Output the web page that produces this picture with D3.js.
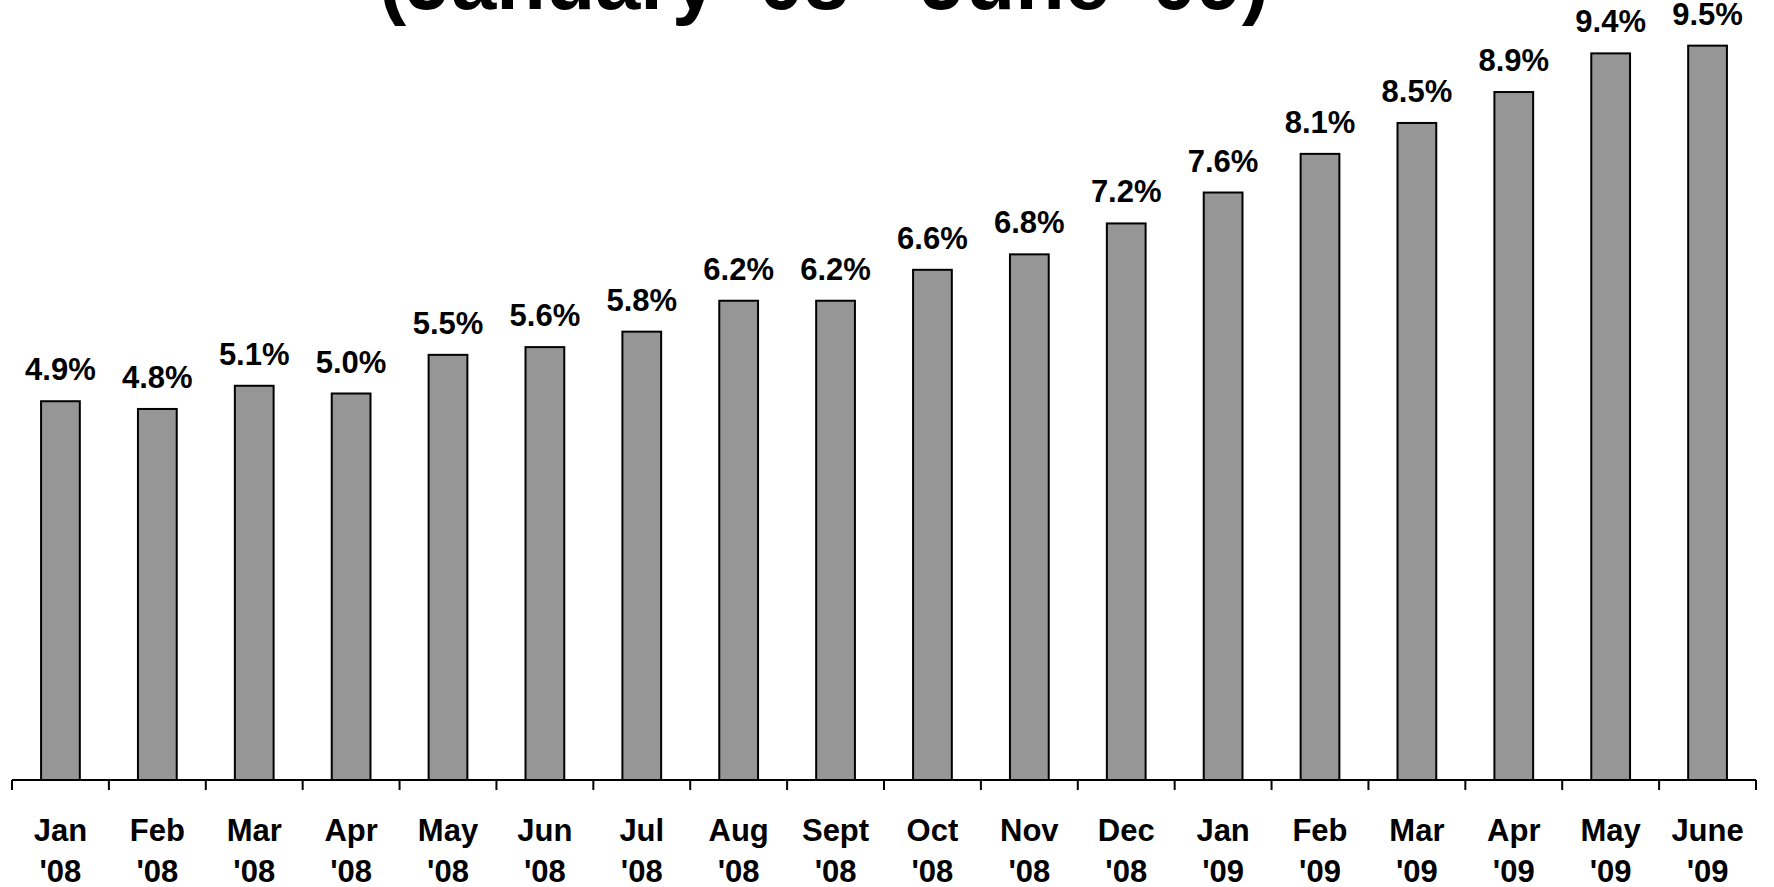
<!DOCTYPE html>
<html>
<head>
<meta charset="utf-8">
<script src="https://cdn.jsdelivr.net/npm/d3@7"></script>
<style>
  body { margin: 0; background: #fff; }
  svg { display: block; font-family: "Liberation Sans", Arial, sans-serif; font-weight: bold; }
  .bar { fill: #969696; stroke: #000; stroke-width: 2; }
  .bar-value { font-size: 31px; fill: #000; }
  .tick-label { font-size: 31px; fill: #000; }
  .title { font-size: 81px; fill: #000; }
</style>
</head>
<body>
<script>

// data
const months = ["Jan", "Feb", "Mar", "Apr", "May", "Jun", "Jul", "Aug", "Sept",
                "Oct", "Nov", "Dec", "Jan", "Feb", "Mar", "Apr", "May", "June"];
const years  = ["'08", "'08", "'08", "'08", "'08", "'08", "'08", "'08", "'08",
                "'08", "'08", "'08", "'09", "'09", "'09", "'09", "'09", "'09"];
const rates  = [4.9, 4.8, 5.1, 5.0, 5.5, 5.6, 5.8, 6.2, 6.2,
                6.6, 6.8, 7.2, 7.6, 8.1, 8.5, 8.9, 9.4, 9.5];
const title_text = "(January '08 - June '09)";

const width = 1774, height = 887;
const left = 12, right = 1756, axisY = 780;

const svg = d3.select("body").append("svg")
              .attr("width", width)
              .attr("height", height);

const idx = d3.range(rates.length);

// category slots (ticks sit on their edges)
const xCat = d3.scaleBand().domain(idx).range([left, right]).padding(0);

// bars inside each slot
const xScale = d3.scaleBand()
                 .domain(idx)
                 .range([left, right])
                 .paddingInner(0.6)
                 .paddingOuter(0.3);

const yScale = d3.scaleLinear().domain([0, 10]).range([axisY, 7]);

// title (mostly off the top edge)
svg.append("text")
   .attr("class", "title")
   .attr("x", 824)
   .attr("y", 9)
   .attr("text-anchor", "middle")
   .text(title_text);

// bars
svg.selectAll("rect.bar")
   .data(idx)
   .enter()
   .append("rect")
   .attr("class", "bar")
   .attr("x", i => xScale(i))
   .attr("width", xScale.bandwidth())
   .attr("y", i => yScale(rates[i]))
   .attr("height", i => axisY - yScale(rates[i]));

// values on top of bars
svg.selectAll("text.bar-value")
   .data(idx)
   .enter()
   .append("text")
   .attr("class", "bar-value")
   .attr("text-anchor", "middle")
   .attr("x", i => xScale(i) + xScale.bandwidth() / 2)
   .attr("y", i => yScale(rates[i]) - 21)
   .text(i => rates[i].toFixed(1) + "%");

// x axis line and category ticks
svg.append("line")
   .attr("x1", left).attr("x2", right)
   .attr("y1", axisY).attr("y2", axisY)
   .attr("stroke", "#000").attr("stroke-width", 2);

const edges = idx.map(i => xCat(i)).concat([right]);
svg.selectAll("line.tick")
   .data(edges)
   .enter()
   .append("line")
   .attr("class", "tick")
   .attr("x1", d => d).attr("x2", d => d)
   .attr("y1", axisY).attr("y2", axisY + 10)
   .attr("stroke", "#000").attr("stroke-width", 2);

// two-line month labels
const labels = svg.selectAll("text.tick-label")
   .data(idx)
   .enter()
   .append("text")
   .attr("class", "tick-label")
   .attr("text-anchor", "middle");

labels.append("tspan")
      .attr("x", i => xCat(i) + xCat.bandwidth() / 2)
      .attr("y", 841)
      .text(i => months[i]);

labels.append("tspan")
      .attr("x", i => xCat(i) + xCat.bandwidth() / 2)
      .attr("y", 882)
      .text(i => years[i]);

</script>
</body>
</html>
